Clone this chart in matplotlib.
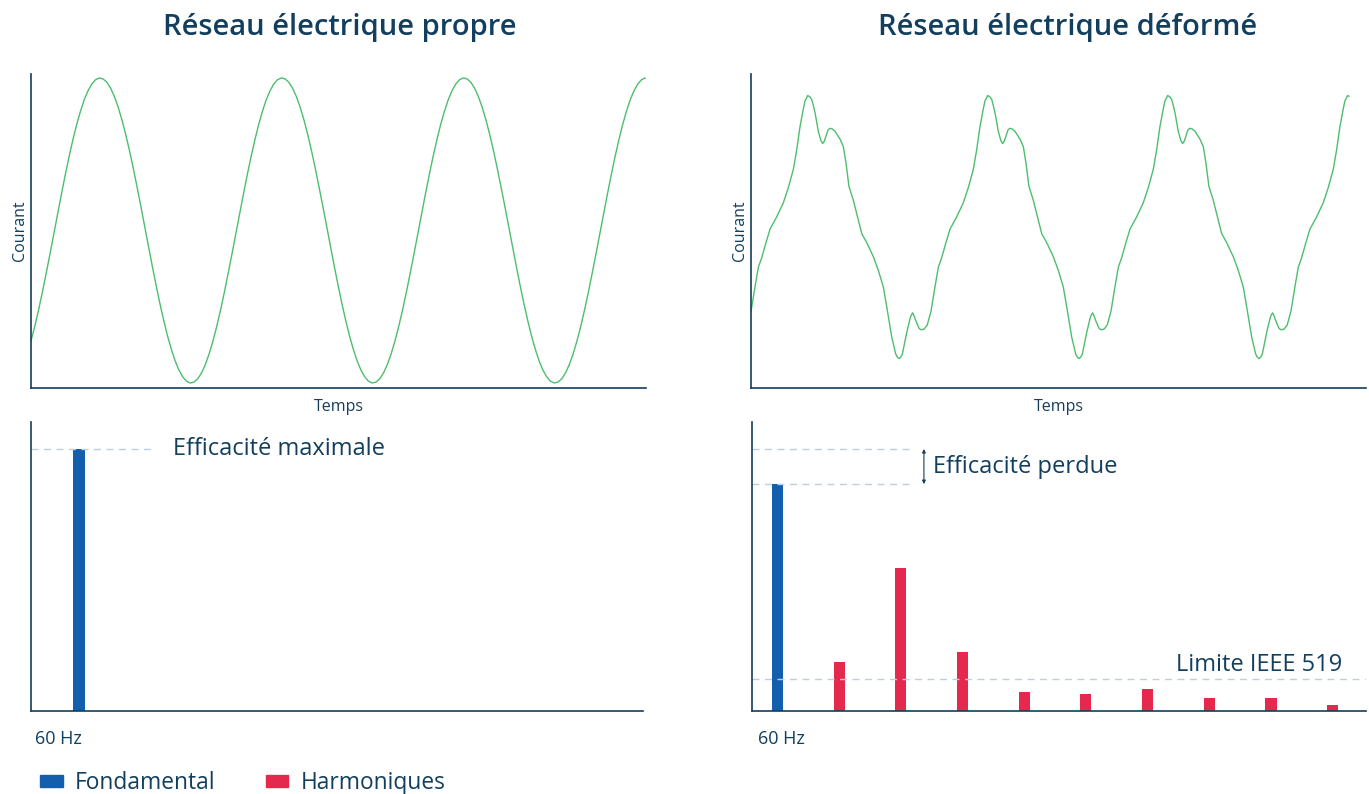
import numpy as np
import matplotlib
matplotlib.use("Agg")
import matplotlib.pyplot as plt
from matplotlib.patches import Patch

plt.rcParams['font.family'] = ['Open Sans', 'DejaVu Sans']

NAVY = '#123f5e'
GREEN = '#4dbd6e'
BLUE = '#135fad'
RED = '#e5294e'
DASH = '#bfcedb'

# courbe propre : une période (phase en fraction de période)
propre_phase = np.arange(48) / 48
propre_cycle = [-0.724, -0.628, -0.521, -0.405, -0.282, -0.155, -0.024, 0.106,
                0.235, 0.360, 0.479, 0.589, 0.690, 0.778, 0.854, 0.914,
                0.959, 0.988, 1.000, 0.994, 0.972, 0.933, 0.878, 0.808,
                0.724, 0.628, 0.521, 0.405, 0.282, 0.155, 0.024, -0.106,
                -0.235, -0.360, -0.479, -0.589, -0.690, -0.778, -0.854, -0.914,
                -0.959, -0.988, -1.000, -0.994, -0.972, -0.933, -0.878, -0.808]
propre_fin = 3.375

# courbe déformée : une période
deforme_phase = [0.000, 0.022, 0.041, 0.059, 0.083, 0.106, 0.143, 0.179, 0.207, 0.235,
                 0.254, 0.272, 0.291, 0.300, 0.309, 0.315, 0.322, 0.328, 0.337, 0.346,
                 0.356, 0.374, 0.388, 0.398, 0.407, 0.417, 0.428, 0.439, 0.452, 0.467,
                 0.494, 0.513, 0.528, 0.544, 0.568, 0.587, 0.615, 0.643, 0.679, 0.707,
                 0.735, 0.754, 0.782, 0.804, 0.813, 0.822, 0.832, 0.841, 0.865, 0.883,
                 0.890, 0.898, 0.906, 0.915, 0.933, 0.942, 0.952, 0.963, 0.979]
deforme_cycle = [-0.53, -0.37, -0.24, -0.18, -0.08, 0.01, 0.09, 0.18, 0.28, 0.40,
                 0.53, 0.68, 0.80, 0.85, 0.87, 0.885, 0.88, 0.875, 0.86, 0.82,
                 0.77, 0.65, 0.59, 0.57, 0.585, 0.62, 0.66, 0.67, 0.665, 0.65,
                 0.60, 0.55, 0.44, 0.29, 0.20, 0.11, -0.02, -0.08, -0.17, -0.26,
                 -0.37, -0.50, -0.70, -0.81, -0.83, -0.84, -0.83, -0.81, -0.67, -0.58,
                 -0.555, -0.54, -0.56, -0.59, -0.64, -0.65, -0.65, -0.645, -0.62]
deforme_fin = 3.322

# spectres (en % de l'efficacité maximale)
rang = [1, 2, 3, 4, 5, 6, 7, 8, 9, 10]
spectre_propre = [100]
spectre_deforme = [86.6, 18.7, 54.6, 22.5, 7.3, 6.5, 8.4, 5.0, 5.0, 2.3]
limite_ieee = 12.2


def repete(phase, cycle, fin):
    t = np.concatenate([np.asarray(phase) + k for k in range(4)])
    v = np.tile(cycle, 4)
    garde = t <= fin + 1e-9
    return t[garde], v[garde]


def style_axes(ax):
    for s in ['top', 'right']:
        ax.spines[s].set_visible(False)
    for s in ['left', 'bottom']:
        ax.spines[s].set_color(NAVY)
        ax.spines[s].set_linewidth(1.2)
    ax.set_xticks([])
    ax.set_yticks([])


fig = plt.figure(figsize=(13.69, 7.94), dpi=100)

ax1 = fig.add_axes([0.02264, 0.5113, 0.4492, 0.3955])
ax2 = fig.add_axes([0.5486, 0.5113, 0.4492, 0.3955])
ax3 = fig.add_axes([0.02264, 0.10453, 0.4470, 0.36398])
ax4 = fig.add_axes([0.5493, 0.10453, 0.4485, 0.36398])

t, v = repete(propre_phase, propre_cycle, propre_fin)
ax1.plot(t, v, color=GREEN, lw=1.0)
ax1.set_xlim(0, 3.379)
t, v = repete(deforme_phase, deforme_cycle, deforme_fin)
ax2.plot(t, v, color=GREEN, lw=1.0)
ax2.set_xlim(0, 3.417)

for ax in (ax1, ax2):
    style_axes(ax)
    ax.set_ylim(-1.033, 1.026)
    ax.set_xlabel('Temps', fontsize=11.5, color=NAVY, labelpad=8)
    ax.set_ylabel('Courant', fontsize=11.5, color=NAVY, labelpad=2)

fig.text(0.2485, 0.965, 'Réseau électrique propre', ha='center', va='center',
         fontsize=21, fontweight='semibold', color=NAVY)
fig.text(0.7795, 0.965, 'Réseau électrique déformé', ha='center', va='center',
         fontsize=21, fontweight='semibold', color=NAVY)

bar_w = 0.18
dash = (0, (5, 4))

# spectre propre
ax3.bar(rang[:1], spectre_propre, width=bar_w, color=BLUE)
ax3.set_xlim(0.222, 10.14)
ax3.set_ylim(0, 110.3)
ax3.hlines(100, 0.222, 2.23, colors=DASH, linestyles=dash, lw=1)
ax3.text(2.52, 100, 'Efficacité maximale', fontsize=17, color=NAVY, va='center')
ax3.text(0.0065, -0.097, '60 Hz', transform=ax3.transAxes, fontsize=13,
         color=NAVY, va='center')

# spectre déformé
ax4.bar(rang[:1], spectre_deforme[:1], width=bar_w, color=BLUE)
ax4.bar(rang[1:], spectre_deforme[1:], width=bar_w, color=RED)
ax4.set_xlim(0.587, 10.54)
ax4.set_ylim(0, 110.3)
ax4.hlines([100, spectre_deforme[0]], 0.587, 3.2, colors=DASH, linestyles=dash, lw=1)
ax4.axhline(limite_ieee, color=DASH, linestyle=dash, lw=1)
ax4.annotate('', xy=(3.374, 100), xytext=(3.374, spectre_deforme[0]),
             arrowprops=dict(arrowstyle='<|-|>', lw=0.8, color=NAVY,
                             mutation_scale=5, shrinkA=0, shrinkB=0))
ax4.text(3.52, (100 + spectre_deforme[0]) / 2, 'Efficacité perdue', fontsize=17,
         color=NAVY, va='center')
ax4.text(10.15, 15.3, 'Limite IEEE 519', fontsize=17, color=NAVY,
         ha='right', va='baseline')
ax4.text(0.0098, -0.097, '60 Hz', transform=ax4.transAxes, fontsize=13,
         color=NAVY, va='center')

for ax in (ax3, ax4):
    style_axes(ax)

handles = [Patch(color=BLUE, label='Fondamental'), Patch(color=RED, label='Harmoniques')]
leg = fig.legend(handles=handles, loc='center left', bbox_to_anchor=(0.0295, 0.014),
                 ncol=2, frameon=False, fontsize=16.4, handlelength=0.98,
                 handleheight=0.42, handletextpad=0.55, columnspacing=2.2,
                 borderaxespad=0, borderpad=0)
for txt in leg.get_texts():
    txt.set_color(NAVY)

fig.savefig('out.png', dpi=100)
